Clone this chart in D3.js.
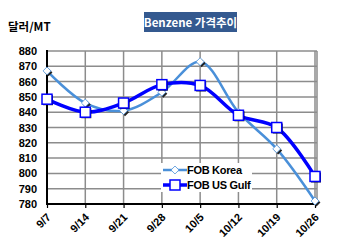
<!DOCTYPE html>
<html>
<head>
<meta charset="utf-8">
<script src="https://cdn.jsdelivr.net/npm/d3@7/dist/d3.min.js"></script>
<style>
  body { margin: 0; background: #fff; }
  svg { display: block; font-family: "Liberation Sans", Arial, "Noto Sans CJK KR", sans-serif; }
  .tick text { font-weight: bold; font-size: 11px; fill: #000; }
</style>
</head>
<body>
<svg id="chart" width="350" height="246"></svg>
<script>
var categories = ["9/7", "9/14", "9/21", "9/28", "10/5", "10/12", "10/19", "10/26"];
var fobKorea = [867, 846, 841, 853, 873, 840, 816, 782];
var fobUsGulf = [848.5, 840, 846, 858, 857.5, 838, 830, 798];
var yTicks = [780, 790, 800, 810, 820, 830, 840, 850, 860, 870, 880];

var svg = d3.select("svg#chart");
var plot = {left: 47, right: 317, top: 51, bottom: 204};

var x = d3.scalePoint().domain(categories).range([plot.left, 315]);
var y = d3.scaleLinear().domain([780, 880]).range([plot.bottom, plot.top]);

// grid
var grid = svg.append("g").attr("stroke", "#8c8c8c").attr("stroke-width", 1.5);
yTicks.forEach(function(v) {
	grid.append("line").attr("x1", plot.left).attr("x2", plot.right).attr("y1", y(v)).attr("y2", y(v));
});
categories.forEach(function(c) {
	grid.append("line").attr("x1", x(c)).attr("x2", x(c)).attr("y1", plot.top).attr("y2", plot.bottom);
});
grid.append("line").attr("x1", plot.right).attr("x2", plot.right).attr("y1", plot.top).attr("y2", plot.bottom);

// axes
var yAxis = svg.append("g")
	.attr("transform", "translate(" + plot.left + ",0)")
	.call(d3.axisLeft(y).tickValues(yTicks).tickSize(0).tickPadding(10));
yAxis.select(".domain").remove();

var xAxis = svg.append("g")
	.attr("transform", "translate(0," + plot.bottom + ")")
	.call(d3.axisBottom(x).tickSize(4));
xAxis.select(".domain").remove();
xAxis.selectAll(".tick line").attr("stroke", "#000").attr("stroke-width", 1.2);
xAxis.selectAll("text")
	.attr("text-anchor", "end")
	.attr("dy", null)
	.attr("y", 0)
	.attr("transform", "translate(4,14) rotate(-45)");

svg.append("line").attr("x1", plot.left).attr("x2", plot.left).attr("y1", plot.top - 1).attr("y2", plot.bottom + 1)
	.attr("stroke", "#000").attr("stroke-width", 2);
svg.append("line").attr("x1", plot.left - 1).attr("x2", plot.right + 1).attr("y1", plot.bottom).attr("y2", plot.bottom)
	.attr("stroke", "#000").attr("stroke-width", 2);

// lines
var line = d3.line()
	.x(function(d, i) { return x(categories[i]); })
	.y(function(d) { return y(d); })
	.curve(d3.curveCatmullRom.alpha(0.5));

svg.append("path").datum(fobKorea)
	.attr("fill", "none").attr("stroke", "#4a90d9").attr("stroke-width", 2.5).attr("d", line);
svg.append("path").datum(fobUsGulf)
	.attr("fill", "none").attr("stroke", "#0000ff").attr("stroke-width", 3.5).attr("d", line);

// markers
var diamond = d3.symbol().type(d3.symbolDiamond2).size(40);
svg.append("g").selectAll("path").data(fobKorea).join("path")
	.attr("transform", function(d, i) { return "translate(" + (x(categories[i]) + 1.5) + "," + (y(d) + 1.5) + ")"; })
	.attr("d", diamond).attr("fill", "#222");
svg.append("g").selectAll("path").data(fobKorea).join("path")
	.attr("transform", function(d, i) { return "translate(" + x(categories[i]) + "," + y(d) + ")"; })
	.attr("d", diamond).attr("fill", "#fff").attr("stroke", "#4a90d9").attr("stroke-width", 0.8);

svg.append("g").selectAll("rect").data(fobUsGulf).join("rect")
	.attr("x", function(d, i) { return x(categories[i]) - 4; })
	.attr("y", function(d) { return y(d) - 4; })
	.attr("width", 10).attr("height", 10).attr("fill", "#111");
svg.append("g").selectAll("rect").data(fobUsGulf).join("rect")
	.attr("x", function(d, i) { return x(categories[i]) - 5; })
	.attr("y", function(d) { return y(d) - 5; })
	.attr("width", 10).attr("height", 10).attr("fill", "#fff")
	.attr("stroke", "#0000ff").attr("stroke-width", 1.5);

// legend
var lg = svg.append("g").attr("transform", "translate(161,163)");
lg.append("rect").attr("width", 91).attr("height", 29).attr("fill", "#fff");
var legendItems = [
	{name: "FOB Korea", color: "#4a90d9", w: 2.5},
	{name: "FOB US Gulf", color: "#0000ff", w: 3.5}
];
legendItems.forEach(function(it, i) {
	var yy = 7 + i * 15;
	lg.append("line").attr("x1", 2).attr("x2", 26).attr("y1", yy).attr("y2", yy)
		.attr("stroke", it.color).attr("stroke-width", it.w);
	if (i == 0) {
		lg.append("path").attr("transform", "translate(14," + yy + ")").attr("d", diamond)
			.attr("fill", "#fff").attr("stroke", it.color).attr("stroke-width", 0.8);
	} else {
		lg.append("rect").attr("x", 9).attr("y", yy - 5).attr("width", 10).attr("height", 10)
			.attr("fill", "#fff").attr("stroke", it.color).attr("stroke-width", 1.5);
	}
	lg.append("text").attr("x", 26).attr("y", yy + 4).text(it.name)
		.attr("font-size", 11).attr("font-weight", "bold").attr("letter-spacing", -0.3);
});

// title
svg.append("rect").attr("x", 144).attr("y", 12).attr("width", 93).attr("height", 20).attr("fill", "#34598f");
svg.append("text").attr("x", 190.5).attr("y", 26.5).attr("text-anchor", "middle")
	.attr("fill", "#fff").attr("font-weight", "bold").attr("font-size", 11.5)
	.style("font-family", "'Noto Sans CJK KR', sans-serif").text("Benzene 가격추이");

svg.append("text").attr("x", 8).attr("y", 31).attr("font-weight", "bold").attr("font-size", 11.5)
	.style("font-family", "'Noto Sans CJK KR', sans-serif").text("달러/MT");
</script>
</body>
</html>
